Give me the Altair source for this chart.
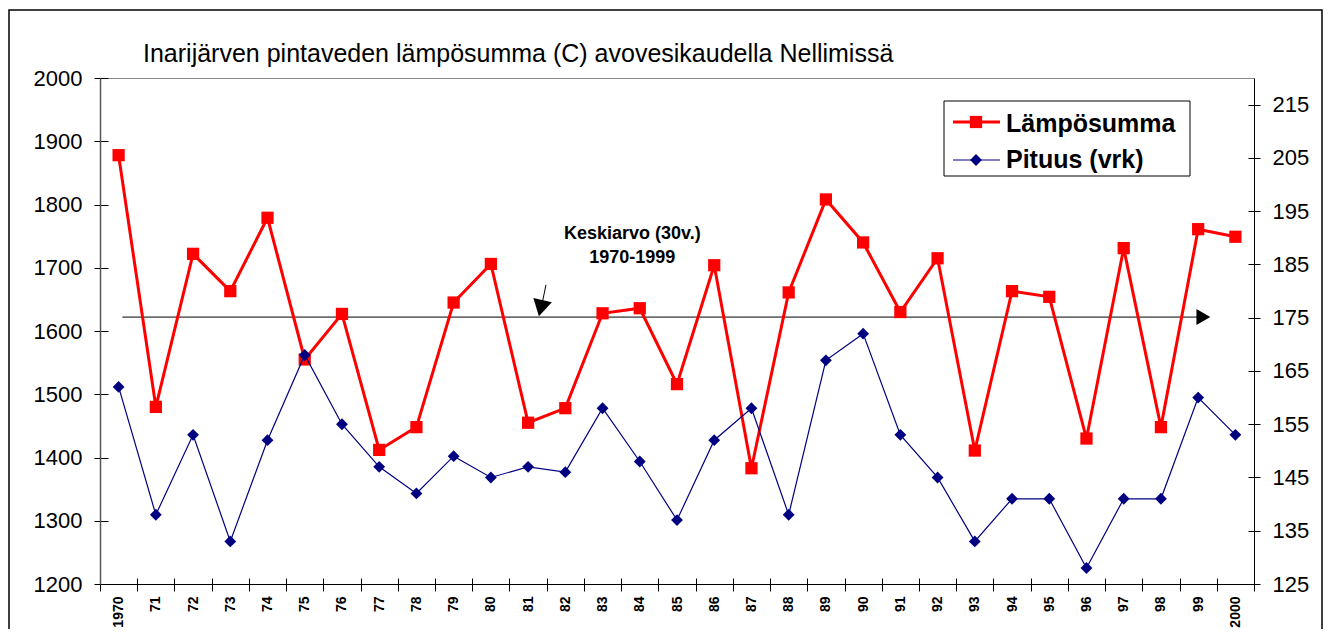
import altair as alt
import pandas as pd

# ---------------- data ----------------
TITLE = "Inarijärven pintaveden lämpösumma (C) avovesikaudella Nellimissä"
YEARS = list(range(1970, 2001))
X_LABELS = ["1970", "71", "72", "73", "74", "75", "76", "77", "78", "79",
            "80", "81", "82", "83", "84", "85", "86", "87", "88", "89",
            "90", "91", "92", "93", "94", "95", "96", "97", "98", "99", "2000"]
LAMPO = [1878, 1480, 1722, 1663, 1779, 1555, 1627, 1412, 1448, 1645,
         1706, 1455, 1478, 1628, 1636, 1516, 1704, 1383, 1661, 1808,
         1740, 1630, 1715, 1411, 1663, 1654, 1430, 1731, 1448, 1761, 1749]
PITUUS = [162, 138, 153, 133, 152, 168, 155, 147, 142, 149,
          145, 147, 146, 158, 148, 137, 152, 158, 138, 167,
          172, 153, 145, 133, 141, 141, 128, 141, 141, 160, 153]
SERIES = ["Lämpösumma", "Pituus (vrk)"]
LEFT_TICKS = [1200, 1300, 1400, 1500, 1600, 1700, 1800, 1900, 2000]
RIGHT_TICKS = [125, 135, 145, 155, 165, 175, 185, 195, 205, 215]

MEAN_VALUE = 1622
MEAN_SPAN = [1970.1, 1999.0]
MEAN_HEAD_X = 1999.14
NOTE_LINES = ["Keskiarvo (30v.)", "1970-1999"]
NOTE_X = [1983.8, 1983.8]
NOTE_Y = [1745, 1707]
SHAFT_X = [1981.48, 1981.39]
SHAFT_Y = [1673, 1647]
HEAD_X = 1981.34
HEAD_Y = 1636

# ---------------- chart ----------------
FONT = "Liberation Sans"
W, H = 1154, 506
RED = "#ff0000"
NAVY = "#000080"

xs = alt.Scale(domain=[YEARS[0] - 0.5, YEARS[-1] + 0.5], nice=False, zero=False)
ls = alt.Scale(domain=[LEFT_TICKS[0], 2000], nice=False, zero=False)
rs = alt.Scale(domain=[RIGHT_TICKS[0], 220], nice=False, zero=False)
X_BOUNDS = [y - 0.5 for y in YEARS] + [YEARS[-1] + 0.5]

df = pd.DataFrame({"year": YEARS, "lampo": LAMPO, "pituus": PITUUS})
one = pd.DataFrame({"k": [0]})
label_expr = "[" + ",".join("'%s'" % s for s in X_LABELS) + "][datum.value - %d]" % YEARS[0]


def xq(field="year:Q"):
    return alt.X(field, scale=xs, title=None, axis=None)


def yl(field):
    return alt.Y(field, scale=ls, title=None, axis=None)


# outer frame of the chart
frame = alt.Chart(one).mark_rect(fillOpacity=0, stroke="black", strokeWidth=1.5).encode(
    x=alt.value(-91), x2=alt.value(1222), y=alt.value(-68), y2=alt.value(600))

title = alt.Chart(one).mark_text(align="left", baseline="alphabetic", font=FONT,
                                 fontSize=25, color="black").encode(
    x=alt.value(43), y=alt.value(-16), text=alt.value(TITLE))

# top border of plot area
top_border = alt.Chart(df).mark_point(opacity=0).encode(
    x=alt.X("year:Q", scale=xs, title=None,
            axis=alt.Axis(orient="top", labels=False, ticks=False, domainColor="#888888",
                          domainWidth=1, grid=False)),
    y=yl("lampo:Q"))

# crossing ticks (inner halves)
tick_layer = alt.Chart(df).mark_point(opacity=0).encode(
    x=alt.X("year:Q", scale=xs, title=None,
            axis=alt.Axis(orient="bottom", values=X_BOUNDS, labels=False, domain=False,
                          tickSize=13, tickColor="black", offset=-6, grid=False)),
    y=alt.Y("lampo:Q", scale=ls, title=None,
            axis=alt.Axis(orient="left", values=LEFT_TICKS, labels=False, domain=False,
                          tickSize=8, tickColor="black", offset=-8, grid=False)))

right_ticks_in = alt.Chart(df).mark_point(opacity=0).encode(
    x=xq(),
    y=alt.Y("pituus:Q", scale=rs, title=None,
            axis=alt.Axis(orient="right", values=RIGHT_TICKS, labels=False, domain=False,
                          tickSize=6, tickColor="black", offset=-6, grid=False)))

# mean line with arrow
mean_df = pd.DataFrame({"year": MEAN_SPAN, "v": [MEAN_VALUE, MEAN_VALUE]})
mean_line = alt.Chart(mean_df).mark_line(color="black", strokeWidth=1).encode(
    x=xq(), y=yl("v:Q"))
mean_head = alt.Chart(pd.DataFrame({"year": [MEAN_HEAD_X], "v": [MEAN_VALUE]})).mark_point(
    shape="triangle-right", filled=True, size=256, color="black", opacity=1).encode(
    x=xq(), y=yl("v:Q"))

shaft = alt.Chart(pd.DataFrame({"year": SHAFT_X, "v": SHAFT_Y})).mark_line(
    color="black", strokeWidth=1).encode(x=xq(), y=yl("v:Q"))
head = alt.Chart(pd.DataFrame({"year": [HEAD_X], "v": [HEAD_Y]})).mark_point(
    shape="triangle-down", angle=13, filled=True, size=361, color="black", opacity=1).encode(
    x=xq(), y=yl("v:Q"))

note = alt.Chart(pd.DataFrame({"year": NOTE_X, "v": NOTE_Y, "t": NOTE_LINES})).mark_text(
    align="center", baseline="alphabetic", font=FONT, fontSize=18, fontWeight="bold",
    color="black").encode(x=xq(), y=yl("v:Q"), text="t:N")

# red series with the left and bottom axes
red_line = alt.Chart(df).mark_line(color=RED, strokeWidth=3).encode(
    x=alt.X("year:Q", scale=xs, title=None,
            axis=alt.Axis(orient="bottom", values=YEARS, labelExpr=label_expr,
                          labelAngle=270, labelAlign="right", labelBaseline="middle",
                          labelFont=FONT, labelFontSize=14, labelFontWeight="bold",
                          labelColor="black", tickOpacity=0, tickSize=7, labelPadding=5,
                          domainColor="black", domainWidth=1, grid=False,
                          labelOverlap=False, labelFlush=False)),
    y=alt.Y("lampo:Q", scale=ls, title=None,
            axis=alt.Axis(orient="left", values=LEFT_TICKS, format="d", labelFont=FONT,
                          labelFontSize=22, labelColor="black", tickColor="black",
                          tickSize=6, labelPadding=12, domainColor="#555555",
                          domainWidth=1.5, grid=False, labelOverlap=False,
                          labelFlush=False)))
red_pts = alt.Chart(df).mark_point(shape="square", filled=True, size=150, color=RED,
                                   opacity=1).encode(x=xq(), y=yl("lampo:Q"))

# navy series with the right axis
blue_line = alt.Chart(df).mark_line(color=NAVY, strokeWidth=1.2).encode(
    x=xq(),
    y=alt.Y("pituus:Q", scale=rs, title=None,
            axis=alt.Axis(orient="right", values=RIGHT_TICKS, format="d", labelFont=FONT,
                          labelFontSize=22, labelColor="black", tickColor="black",
                          tickSize=6, labelPadding=12, domainColor="black",
                          domainWidth=1, grid=False, labelOverlap=False,
                          labelFlush=False)))
blue_pts = alt.Chart(df).mark_point(shape="diamond", filled=True, size=140, color=NAVY,
                                    opacity=1).encode(
    x=xq(), y=alt.Y("pituus:Q", scale=rs, title=None, axis=None))

# legend box
leg_box = alt.Chart(one).mark_rect(fill="white", stroke="black", strokeWidth=1).encode(
    x=alt.value(844), x2=alt.value(1090), y=alt.value(23), y2=alt.value(98))
leg_r_line = alt.Chart(one).mark_rule(color=RED, strokeWidth=3).encode(
    x=alt.value(853), x2=alt.value(900), y=alt.value(44))
leg_r_pt = alt.Chart(one).mark_point(shape="square", filled=True, size=150, color=RED,
                                     opacity=1).encode(x=alt.value(876), y=alt.value(44))
leg_b_line = alt.Chart(one).mark_rule(color=NAVY, strokeWidth=1.2).encode(
    x=alt.value(853), x2=alt.value(900), y=alt.value(82))
leg_b_pt = alt.Chart(one).mark_point(shape="diamond", filled=True, size=140, color=NAVY,
                                     opacity=1).encode(x=alt.value(876), y=alt.value(82))
leg_t1 = alt.Chart(one).mark_text(align="left", baseline="alphabetic", font=FONT,
                                  fontSize=25, fontWeight="bold", color="black").encode(
    x=alt.value(906), y=alt.value(54), text=alt.value(SERIES[0]))
leg_t2 = alt.Chart(one).mark_text(align="left", baseline="alphabetic", font=FONT,
                                  fontSize=25, fontWeight="bold", color="black").encode(
    x=alt.value(906), y=alt.value(90), text=alt.value(SERIES[1]))

chart = alt.layer(
    frame, title, top_border, tick_layer, right_ticks_in,
    mean_line, mean_head, shaft, head, note,
    red_line, red_pts, blue_line, blue_pts,
    leg_box, leg_r_line, leg_r_pt, leg_b_line, leg_b_pt, leg_t1, leg_t2,
).resolve_scale(y="independent").resolve_axis(x="independent", y="independent").properties(
    width=W, height=H,
    autosize=alt.AutoSizeParams(type="none"),
    padding={"left": 92, "top": 70, "right": 69, "bottom": 45},
    background="white",
).configure_view(strokeOpacity=0)

chart.save("out.html", embed_options={"renderer": "svg", "actions": False})
